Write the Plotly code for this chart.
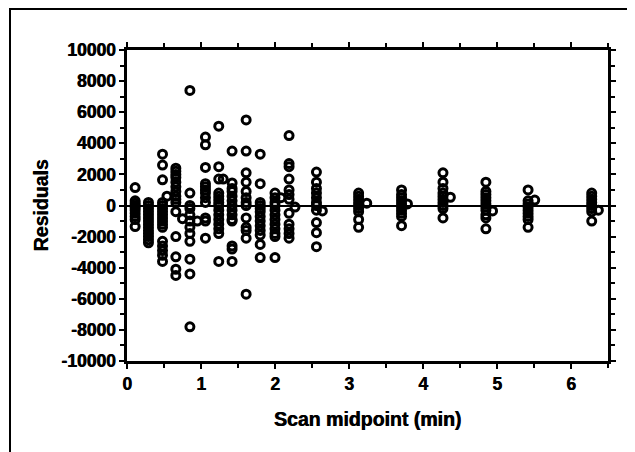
import plotly.graph_objects as go

# Scan midpoints (min) and the residuals observed at each one
res_011 = [1150, 300, 150, 0, -150, -300, -500, -700, -900, -1350]
res_029 = [200, 0, -200, -400, -600, -800, -1000, -1200, -1400, -1600, -1800, -2000, -2200, -2400]
res_048 = [3300, 2600, 1650, 200, 0, -200, -400, -600, -800, -1000, -1200, -1400, -2300, -2600, -2900, -3200, -3600]
res_054 = [600]
res_066 = [2400, 2200, 2000, 1800, 1500, 1200, 900, 600, 400, 200, -400, -2000, -3300, -4100, -4500]
res_075 = [-850]
res_085 = [7400, 800, 0, -200, -600, -1000, -1400, -1800, -2300, -3450, -4400, -7800]
res_095 = [-1000]
res_106 = [4400, 3900, 2450, 1400, 1200, 1000, 800, 500, 200, -800, -1000, -2100]
res_124 = [5100, 2500, 1700, 800, 600, 400, 200, 0, -300, -600, -900, -1200, -1500, -1800, -3600]
res_130 = [1700]
res_142 = [3500, 1450, 1100, 900, 600, 300, 0, -300, -600, -900, -1000, -2600, -2800, -3600]
res_161 = [5500, 3500, 2100, 1500, 900, 500, 200, 0, -800, -1400, -1600, -2100, -5700]
res_180 = [3300, 1400, 200, 0, -200, -400, -700, -1000, -1300, -1600, -1900, -2500, -3350]
res_200 = [800, 500, 200, 0, -300, -600, -900, -1200, -1500, -1800, -2000, -3350]
res_208 = [500]
res_219 = [4500, 2700, 2500, 1700, 1000, 700, 400, -500, -1200, -1500, -1800, -2100]
res_227 = [-100]
res_256 = [2150, 1500, 1100, 800, 500, 200, 0, -300, -1100, -1750, -2650]
res_264 = [-350]
res_313 = [800, 600, 400, 200, 0, -200, -400, -900, -1400]
res_324 = [150]
res_371 = [1000, 700, 500, 300, 100, -100, -300, -500, -700, -1300]
res_379 = [100]
res_427 = [2100, 1500, 1100, 800, 600, 400, 200, 0, -200, -800]
res_437 = [530]
res_485 = [1500, 900, 700, 500, 300, 100, -100, -300, -600, -800, -1500]
res_494 = [-350]
res_542 = [1000, 300, 100, -100, -300, -500, -700, -900, -1400]
res_551 = [350]
res_628 = [800, 600, 400, 200, 0, -200, -400, -1000]
res_637 = [-300]

scan_midpoints = [0.11, 0.29, 0.48, 0.54, 0.66, 0.75, 0.85, 0.95, 1.06, 1.24, 1.30,
                  1.42, 1.61, 1.80, 2.00, 2.08, 2.19, 2.27, 2.56, 2.64, 3.13, 3.24,
                  3.71, 3.79, 4.27, 4.37, 4.85, 4.94, 5.42, 5.51, 6.28, 6.37]
residual_columns = [res_011, res_029, res_048, res_054, res_066, res_075, res_085, res_095,
                    res_106, res_124, res_130, res_142, res_161, res_180, res_200, res_208,
                    res_219, res_227, res_256, res_264, res_313, res_324, res_371, res_379,
                    res_427, res_437, res_485, res_494, res_542, res_551, res_628, res_637]

x_ticks = [0, 1, 2, 3, 4, 5, 6]
y_ticks = [-10000, -8000, -6000, -4000, -2000, 0, 2000, 4000, 6000, 8000, 10000]

xs, ys = [], []
for t, col in zip(scan_midpoints, residual_columns):
    for r in col:
        xs.append(t)
        ys.append(r)

FONT = "Liberation Sans"
HEAVY = "0.6px 0 0 black"

fig = go.Figure()
fig.add_trace(go.Scatter(
    x=xs, y=ys, mode="markers",
    marker=dict(symbol="circle-open", size=8, color="black", line=dict(width=3, color="black")),
    showlegend=False, hoverinfo="x+y",
))

axis_common = dict(
    showline=True, linecolor="black", linewidth=2.5, mirror="allticks",
    ticks="outside", ticklen=5, tickwidth=2, tickcolor="black",
    showgrid=False, color="black",
    tickfont=dict(family=FONT, size=17.5, color="black", weight="bold", shadow=HEAVY),
)

fig.update_xaxes(
    range=[0, 6.5], tickmode="array", tickvals=x_ticks,
    ticktext=[str(v) for v in x_ticks],
    minor=dict(dtick=0.5, tick0=0, ticks="outside", ticklen=4, tickwidth=2, tickcolor="black"),
    title=dict(text="Scan midpoint (min)", standoff=20,
               font=dict(family=FONT, size=19.5, color="black", weight="bold", shadow=HEAVY)),
    zeroline=False,
    **axis_common,
)
fig.update_yaxes(
    range=[-10000, 10000], tickmode="array", tickvals=y_ticks,
    ticktext=[str(v) for v in y_ticks],
    minor=dict(dtick=1000, tick0=0, ticks="outside", ticklen=4, tickwidth=2, tickcolor="black"),
    title=dict(text="Residuals", standoff=8,
               font=dict(family=FONT, size=19.5, color="black", weight="bold", shadow=HEAVY)),
    zeroline=True, zerolinecolor="black", zerolinewidth=2,
    **axis_common,
)

# outer figure frame (top and left edges visible)
fig.add_shape(type="rect", xref="paper", yref="paper",
              x0=(2 - 119) / 481, x1=1.2, y0=-0.4, y1=1 + (42 - 1) / 311,
              line=dict(color="black", width=2), fillcolor="rgba(0,0,0,0)", layer="below")

fig.update_layout(
    width=627, height=444,
    margin=dict(l=119, r=27, t=42, b=91),
    paper_bgcolor="white", plot_bgcolor="white",
    font=dict(family=FONT, color="black"),
)

fig.write_html("out.html")
